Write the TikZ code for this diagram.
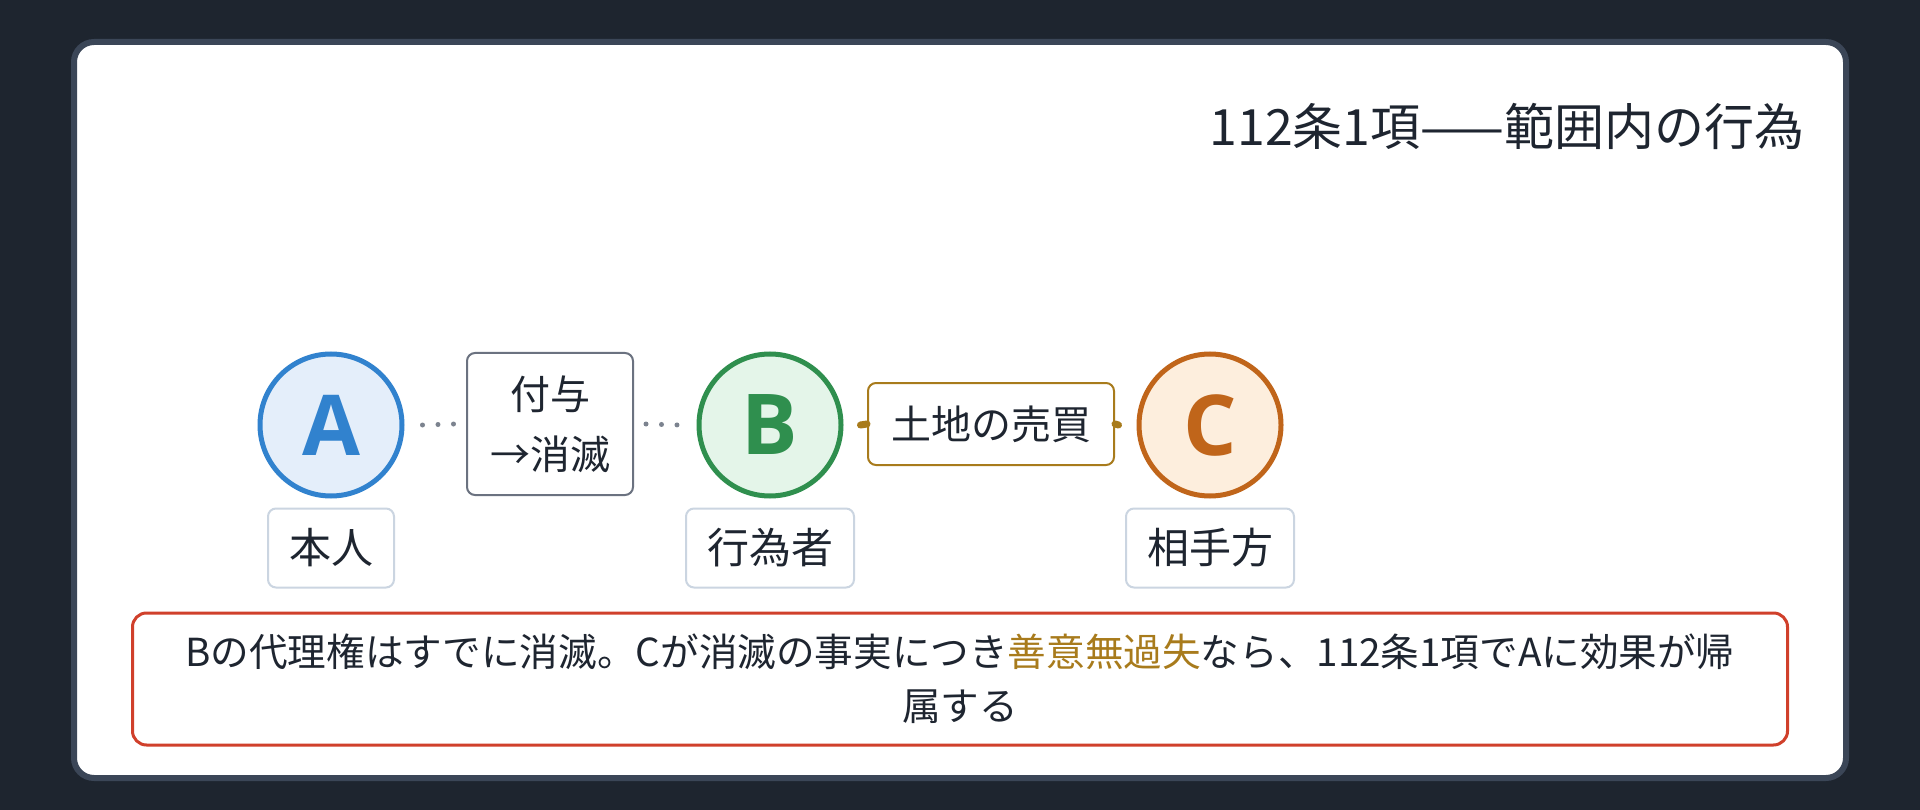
\documentclass[tikz,border=0pt]{standalone}
\usepackage{fontspec}
\setmainfont{Noto Sans CJK JP}
\newfontfamily\letterfont{Open Sans}
\usetikzlibrary{calc}
\definecolor{bgdark}{HTML}{1E252F}
\definecolor{cardedge}{HTML}{3B4657}
\definecolor{ink}{HTML}{1E2530}
\definecolor{blueA}{HTML}{3182CE}
\definecolor{blueAfill}{HTML}{E4EEFA}
\definecolor{greenB}{HTML}{2F8F4E}
\definecolor{greenBfill}{HTML}{E4F5E9}
\definecolor{orangeC}{HTML}{C0651A}
\definecolor{orangeCfill}{HTML}{FDEEDD}
\definecolor{grayedge}{HTML}{6B7280}
\definecolor{dotgray}{HTML}{7C838F}
\definecolor{goldedge}{HTML}{A87B1C}
\definecolor{roleedge}{HTML}{CBD5E1}
\definecolor{rededge}{HTML}{D0402B}
\tikzset{
	party/.style={circle, line width=5pt, minimum size=142pt, inner sep=0pt, font=\fontsize{84}{84}\selectfont\letterfont\bfseries},
	rolebox/.style={draw=roleedge, line width=2pt, rounded corners=8pt, fill=white, inner xsep=21pt, inner ysep=0pt, minimum height=79pt, text=ink, font=\fontsize{42}{50}\selectfont},
	linkbox/.style={line width=2pt, rounded corners=8pt, fill=white, inner xsep=23pt, inner ysep=0pt, text=ink, align=center, font=\fontsize{40}{60}\selectfont},
	dotlink/.style={dotgray, line width=5pt, line cap=round, dash pattern=on 0pt off 15.5pt},
	goldlink/.style={goldedge, line width=7pt, line cap=round},
}
\begin{document}
\begin{tikzpicture}[x=1pt,y=-1pt]
	\fill[bgdark] (0,0) rectangle (1920,810);
	\useasboundingbox (0,0) rectangle (1920,810);
	\draw[cardedge, line width=6pt, fill=white, rounded corners=20pt] (74,42) rectangle (1846,778);
	\node[anchor=east, text=ink, font=\fontsize{50}{50}\selectfont] (title) at (1808,126) {112条1項——範囲内の行為};
	% parties
	\node[party, draw=blueA, fill=blueAfill, text=blueA] (A) at (331,425) {A};
	\node[party, draw=greenB, fill=greenBfill, text=greenB] (B) at (770,425) {B};
	\node[party, draw=orangeC, fill=orangeCfill, text=orangeC] (C) at (1210,425) {C};
	\node[rolebox] (Arole) at ($(A) + (0,123)$) {本人};
	\node[rolebox] (Brole) at ($(B) + (0,123)$) {行為者};
	\node[rolebox] (Crole) at ($(C) + (0,123)$) {相手方};
	% links
	\node[linkbox, draw=grayedge, minimum height=142pt] (grant) at (550,424) {付与\\→消滅};
	\node[linkbox, draw=goldedge, minimum height=82pt] (sale) at (991,424) {土地の売買};
	\draw[dotlink] ($(A.east) + (18,0)$) -- ($(grant.west) + (-12,0)$);
	\draw[dotlink] ($(grant.east) + (12,0)$) -- ($(B.west) + (-18,0)$);
	\draw[goldlink] ($(B.east) + (17,0)$) -- (sale.west);
	\draw[goldlink] (sale.east) -- ($(C.west) + (-18,0)$);
	% note
	\node[draw=rededge, line width=3pt, rounded corners=14pt, fill=white, minimum width=1655pt, minimum height=132pt, inner sep=0pt, align=center, text=ink, font=\fontsize{38.6}{54}\selectfont] (note) at (960,679) {Bの代理権はすでに消滅。Cが消滅の事実につき\textcolor{goldedge}{善意無過失}なら、112条1項でAに効果が帰\\属する};
\end{tikzpicture}
\end{document}
